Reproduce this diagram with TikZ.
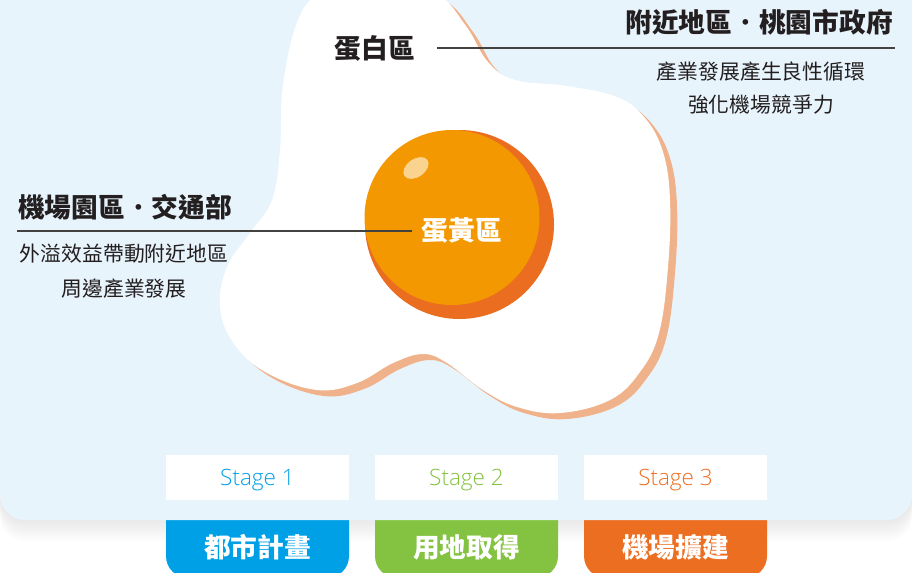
\documentclass[tikz,border=0pt]{standalone}
\usepackage{fontspec}
\newfontfamily\cjk{Noto Sans CJK TC}
\newfontfamily\latin{Open Sans}[UprightFont=* Light]
\usepackage{tikz}
\definecolor{panelblue}{HTML}{E8F4FC}
\definecolor{eggshadow}{HTML}{F0B28A}
\definecolor{yolkdark}{HTML}{EB6E20}
\definecolor{yolklight}{HTML}{F39800}
\definecolor{yolkshine}{HTML}{FAD48F}
\definecolor{textdark}{HTML}{231F20}
\definecolor{stageblue}{HTML}{00A0E6}
\definecolor{stagegreen}{HTML}{84C241}
\definecolor{stageorange}{HTML}{EC6E21}

\begin{document}
\begin{tikzpicture}[x=0.025cm,y=-0.025cm,
  title/.style={font=\cjk\bfseries\fontsize{19}{22}\selectfont, text=textdark, inner sep=0pt},
  note/.style={font=\cjk\fontsize{14.8}{18}\selectfont, text=textdark, inner sep=0pt},
  leader/.style={draw=textdark!85, line width=0.75pt},
  stagebox/.style={fill=white, minimum width=4.575cm, minimum height=1.125cm, inner sep=0pt, text depth=0pt, font=\latin\fontsize{16}{18}\selectfont},
  tablabel/.style={font=\cjk\bfseries\fontsize{19}{22}\selectfont, text=white, inner sep=0pt}]
\useasboundingbox (0,0) rectangle (912,572);
\clip (0,0) rectangle (912,572);

% soft shadow under the panel
\foreach \d in {1,...,22} {
  \fill[black, opacity=0.0045, rounded corners=0.625cm] (0,-30) rectangle (912,520+\d);
}

% coloured tabs, tops hidden under the panel
\foreach \i/\x/\col/\name in {1/257.5/stageblue/都市計畫,2/466.5/stagegreen/用地取得,3/675.5/stageorange/機場擴建} {
  \fill[\col, rounded corners=0.55cm] (\x-91.5,480) rectangle (\x+91.5,578);
  \node[tablabel] (tab\i) at (\x,547) {\name};
}

\fill[panelblue, rounded corners=0.625cm] (0,-30) rectangle (912,520);

% egg white with its shadow
\def\eggoutline{plot[smooth cycle, tension=0.65] coordinates {(298,20) (322,-6) (380,-16) (436,-6) (466,26) (488,62) (515,80) (567,86) (617,97) (645,118) (663,152) (670,200) (668,267) (659,333) (640,372) (610,400) (560,413) (517,407) (483,390) (447,363) (423,354) (393,363) (357,383) (317,390) (267,373) (234,344) (220,307) (227,267) (250,233) (272,200) (280,150) (283,85)}}
\fill[eggshadow, shift={(7,6)}] \eggoutline;
\fill[white] \eggoutline;

% yolk
\fill[yolkdark] (459.5,224.5) circle (94.5);
\fill[yolklight] (452,217.5) circle (87.5);
\fill[yolkshine, rotate around={35:(416,168)}] (416,168) ellipse (14 and 9);

% labels
\node[title] (white) at (375,48) {蛋白區};
\node[title, text=white] (yolk) at (462,231) {蛋黃區};
\node[title, anchor=east] (govt) at (893,22) {附近地區{\mdseries ·}桃園市政府};
\node[note] (goal1) at (761,72) {產業發展產生良性循環};
\node[note] (goal2) at (761,105) {強化機場競爭力};
\node[title, anchor=west] (airport) at (18,207) {機場園區{\mdseries ·}交通部};
\node[note] (effect1) at (124,254) {外溢效益帶動附近地區};
\node[note] (effect2) at (124,289) {周邊產業發展};

\coordinate (whiteline) at (437,48);
\coordinate (govtline) at (895,48);
\coordinate (airportline) at (17,231);
\draw[leader] (whiteline) -- (govtline);
\draw[leader] (airportline) -- ([xshift=-0.25cm]yolk.west);

% stages
\node[stagebox, text=stageblue] (stage1) at (257.5,477.5) {Stage 1};
\node[stagebox, text=stagegreen] (stage2) at (466.5,477.5) {Stage 2};
\node[stagebox, text=stageorange] (stage3) at (675.5,477.5) {Stage 3};
\end{tikzpicture}
\end{document}
